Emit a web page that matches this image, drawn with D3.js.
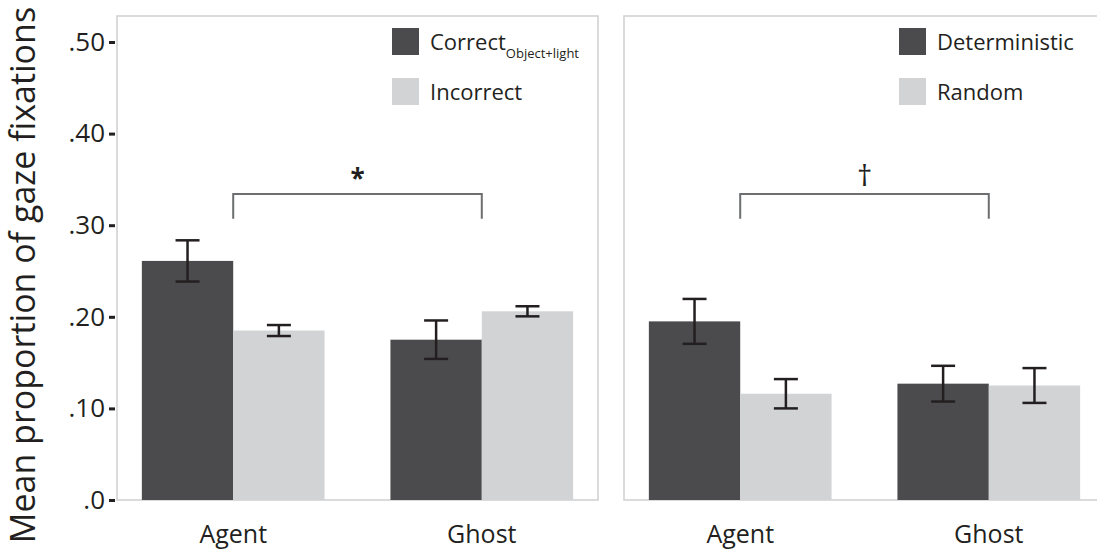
<!DOCTYPE html>
<html>
<head>
<meta charset="utf-8">
<script src="https://cdn.jsdelivr.net/npm/d3@7"></script>
<style>
  body { margin: 0; background: #fff; }
  svg text { font-family: "Open Sans", "Noto Sans", sans-serif; fill: #231f20; }
</style>
</head>
<body>
<div id="chart"></div>
<script>
// data
const groups = ['Agent', 'Ghost'];
const yTicks = [0, 0.1, 0.2, 0.3, 0.4, 0.5];

const leftSeries = ['Correct', 'Incorrect'];
const leftSub = ['Object+light', ''];
const leftMeans = [[0.261, 0.185], [0.175, 0.206]];   // [group][series]
const leftErr = [[0.0225, 0.006], [0.021, 0.0055]];
const leftSig = '*';

const rightSeries = ['Deterministic', 'Random'];
const rightSub = ['', ''];
const rightMeans = [[0.195, 0.116], [0.127, 0.125]];
const rightErr = [[0.0245, 0.016], [0.0195, 0.019]];
const rightSig = '\u2020';

const bracketTop = 0.334;
const bracketLeg = 0.307;

const colors = ['#4b4b4d', '#d1d3d4'];

const width = 1097, height = 550;
const plotTop = 16, plotBottom = 500;
const panelW = 481;

const svg = d3.select('#chart')
    .append('svg')
    .attr('width', width)
    .attr('height', height);

const y = d3.scaleLinear()
    .domain([0, 0.5])
    .range([plotBottom, 42]);

function drawPanel(x0, series, sub, means, errs, sig) {
    const x = d3.scaleBand()
        .domain(groups)
        .range([x0, x0 + panelW])
        .paddingInner(0.265)
        .paddingOuter(0.1);
    const xs = d3.scaleBand()
        .domain(d3.range(series.length))
        .range([0, x.bandwidth()]);

    const g = svg.append('g');

    g.append('rect')
        .attr('x', x0)
        .attr('y', plotTop)
        .attr('width', panelW)
        .attr('height', plotBottom - plotTop)
        .attr('fill', 'none')
        .attr('stroke', '#cfcfcf')
        .attr('stroke-width', 1.5);

    const cells = [];
    groups.forEach((grp, gi) => {
        series.forEach((s, si) => {
            cells.push({ grp: grp, si: si, v: means[gi][si], e: errs[gi][si] });
        });
    });

    g.selectAll('.bar')
        .data(cells)
        .enter().append('rect')
        .attr('class', 'bar')
        .attr('x', d => x(d.grp) + xs(d.si))
        .attr('y', d => y(d.v))
        .attr('width', xs.bandwidth())
        .attr('height', d => y(0) - y(d.v))
        .attr('fill', d => colors[d.si]);

    // error bars
    const cap = 12;
    const eb = g.selectAll('.err')
        .data(cells)
        .enter().append('g')
        .attr('class', 'err')
        .attr('stroke', '#231f20')
        .attr('stroke-width', 2.5);
    const cx = d => x(d.grp) + xs(d.si) + xs.bandwidth() / 2;
    eb.append('line')
        .attr('x1', cx).attr('x2', cx)
        .attr('y1', d => y(d.v - d.e)).attr('y2', d => y(d.v + d.e));
    eb.append('line')
        .attr('x1', d => cx(d) - cap).attr('x2', d => cx(d) + cap)
        .attr('y1', d => y(d.v + d.e)).attr('y2', d => y(d.v + d.e));
    eb.append('line')
        .attr('x1', d => cx(d) - cap).attr('x2', d => cx(d) + cap)
        .attr('y1', d => y(d.v - d.e)).attr('y2', d => y(d.v - d.e));

    // significance bracket between group centres
    const bx1 = x(groups[0]) + x.bandwidth() / 2;
    const bx2 = x(groups[1]) + x.bandwidth() / 2;
    g.append('path')
        .attr('d', 'M' + bx1 + ',' + y(bracketLeg) + 'V' + y(bracketTop) + 'H' + bx2 + 'V' + y(bracketLeg))
        .attr('fill', 'none')
        .attr('stroke', '#6d6e70')
        .attr('stroke-width', 2);
    g.append('text')
        .attr('x', (bx1 + bx2) / 2)
        .attr('y', y(bracketTop) - (sig === '*' ? 6 : 8))
        .attr('text-anchor', 'middle')
        .style('font-size', sig === '*' ? '26px' : '30px')
        .style('font-weight', sig === '*' ? 'bold' : 'normal')
        .text(sig);

    // x axis labels
    const xAxis = g.append('g')
        .attr('transform', 'translate(0,' + plotBottom + ')')
        .call(d3.axisBottom(x).tickSize(0).tickPadding(25));
    xAxis.select('.domain').remove();
    xAxis.selectAll('text')
        .style('font-size', '25px')
        .attr('fill', '#231f20');

    // legend
    const lx = x0 + panelW - 206;
    series.forEach((s, i) => {
        const ly = 28 + i * 50;
        g.append('rect')
            .attr('x', lx)
            .attr('y', ly)
            .attr('width', 27)
            .attr('height', 27)
            .attr('fill', colors[i]);
        const t = g.append('text')
            .attr('x', lx + 38)
            .attr('y', ly + 22)
            .style('font-size', '22px');
        t.append('tspan').text(s);
        if (sub[i]) {
            t.append('tspan')
                .attr('dy', 8)
                .style('font-size', '13px')
                .text(sub[i]);
        }
    });

    return x;
}

drawPanel(117, leftSeries, leftSub, leftMeans, leftErr, leftSig);
drawPanel(624, rightSeries, rightSub, rightMeans, rightErr, rightSig);

// y axis (left panel only)
const yAxis = svg.append('g')
    .attr('transform', 'translate(115,0)')
    .call(d3.axisLeft(y)
        .tickValues(yTicks)
        .tickSize(6)
        .tickPadding(4)
        .tickFormat(d => d === 0 ? '.0' : d3.format('.2f')(d).replace(/^0/, '')));
yAxis.select('.domain').remove();
yAxis.selectAll('.tick line')
    .attr('stroke', '#231f20')
    .attr('stroke-width', 3);
yAxis.selectAll('text')
    .style('font-size', '26px')
    .attr('fill', '#231f20');

svg.append('text')
    .attr('transform', 'rotate(-90)')
    .attr('x', -275)
    .attr('y', 35)
    .attr('text-anchor', 'middle')
    .style('font-size', '34px')
    .text('Mean proportion of gaze fixations');
</script>
</body>
</html>
